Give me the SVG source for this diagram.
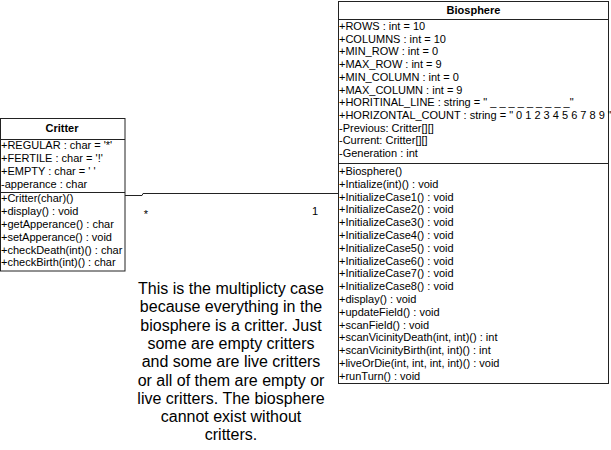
<svg xmlns="http://www.w3.org/2000/svg" width="611" height="450" viewBox="0 0 611 450">
<style>
.box{fill:#fff;stroke:#222;stroke-width:1}
.sep{stroke:#222;stroke-width:1}
.t{font-family:"Liberation Sans",Arial,sans-serif;font-size:11px;fill:#000}
.title{font-family:"Liberation Sans",Arial,sans-serif;font-size:11px;font-weight:bold;fill:#000;text-anchor:middle}
.note{font-family:"Liberation Sans",Arial,sans-serif;font-size:16px;fill:#000;text-anchor:middle}
.conn{fill:none;stroke:#222;stroke-width:1}
</style>
<rect width="611" height="450" fill="#fff"/>
<g id="connectors">
<path class="conn" d="M125,195.5 H142 L143,193.5 H338"/>
<text class="t" x="146" y="218" text-anchor="middle">*</text>
<text class="t" x="315" y="214.5" text-anchor="middle">1</text>
</g>
<g id="critter">
<rect class="box" x="0.5" y="118.5" width="124.5" height="152.5"/>
<text class="title" x="62" y="132">Critter</text>
<line class="sep" x1="0.5" y1="139.5" x2="125" y2="139.5"/>
<text class="t" x="1" y="149">+REGULAR : char = '*'</text>
<text class="t" x="1" y="162">+FERTILE : char = '!'</text>
<text class="t" x="1" y="175">+EMPTY : char = ' '</text>
<text class="t" x="1" y="188">-apperance : char</text>
<line class="sep" x1="0.5" y1="192.5" x2="125" y2="192.5"/>
<text class="t" x="1" y="202.3">+Critter(char)()</text>
<text class="t" x="1" y="215.1">+display() : void</text>
<text class="t" x="1" y="227.9">+getApperance() : char</text>
<text class="t" x="1" y="240.7">+setApperance() : void</text>
<text class="t" x="1" y="253.5">+checkDeath(int)() : char</text>
<text class="t" x="1" y="266.3">+checkBirth(int)() : char</text>
</g>
<g id="biosphere">
<rect class="box" x="338.5" y="1.5" width="270" height="382"/>
<text class="title" x="473.5" y="14">Biosphere</text>
<line class="sep" x1="338.5" y1="19.5" x2="608.5" y2="19.5"/>
<text class="t" x="339" y="30">+ROWS : int = 10</text>
<text class="t" x="339" y="42.7">+COLUMNS : int = 10</text>
<text class="t" x="339" y="55.4">+MIN_ROW : int = 0</text>
<text class="t" x="339" y="68.1">+MAX_ROW : int = 9</text>
<text class="t" x="339" y="80.8">+MIN_COLUMN : int = 0</text>
<text class="t" x="339" y="93.5">+MAX_COLUMN : int = 9</text>
<text class="t" x="339" y="106.2">+HORITINAL_LINE : string = " _ _ _ _ _ _ _ _ _"</text>
<text class="t" x="339" y="118.9">+HORIZONTAL_COUNT : string = " 0 1 2 3 4 5 6 7 8 9 "</text>
<text class="t" x="339" y="131.6">-Previous: Critter[][]</text>
<text class="t" x="339" y="144.3">-Current: Critter[][]</text>
<text class="t" x="339" y="157">-Generation : int</text>
<line class="sep" x1="338.5" y1="163.5" x2="608.5" y2="163.5"/>
<text class="t" x="339" y="175">+Biosphere()</text>
<text class="t" x="339" y="187.8">+Intialize(int)() : void</text>
<text class="t" x="339" y="200.6">+InitializeCase1() : void</text>
<text class="t" x="339" y="213.4">+InitializeCase2() : void</text>
<text class="t" x="339" y="226.2">+InitializeCase3() : void</text>
<text class="t" x="339" y="239">+InitializeCase4() : void</text>
<text class="t" x="339" y="251.8">+InitializeCase5() : void</text>
<text class="t" x="339" y="264.6">+InitializeCase6() : void</text>
<text class="t" x="339" y="277.4">+InitializeCase7() : void</text>
<text class="t" x="339" y="290.2">+InitializeCase8() : void</text>
<text class="t" x="339" y="303">+display() : void</text>
<text class="t" x="339" y="315.8">+updateField() : void</text>
<text class="t" x="339" y="328.6">+scanField() : void</text>
<text class="t" x="339" y="341.4">+scanVicinityDeath(int, int)() : int</text>
<text class="t" x="339" y="354.2">+scanVicinityBirth(int, int)() : int</text>
<text class="t" x="339" y="367">+liveOrDie(int, int, int, int)() : void</text>
<text class="t" x="339" y="379.8">+runTurn() : void</text>
</g>
<g id="note">
<text class="note" x="231" y="294">This is the multiplicty case</text>
<text class="note" x="231" y="312.3">because everything in the</text>
<text class="note" x="231" y="330.6">biosphere is a critter. Just</text>
<text class="note" x="231" y="348.9">some are empty critters</text>
<text class="note" x="231" y="367.2">and some are live critters</text>
<text class="note" x="231" y="385.5">or all of them are empty or</text>
<text class="note" x="231" y="403.8">live critters. The biosphere</text>
<text class="note" x="231" y="422.1">cannot exist without</text>
<text class="note" x="231" y="440.4">critters.</text>
</g>
</svg>
